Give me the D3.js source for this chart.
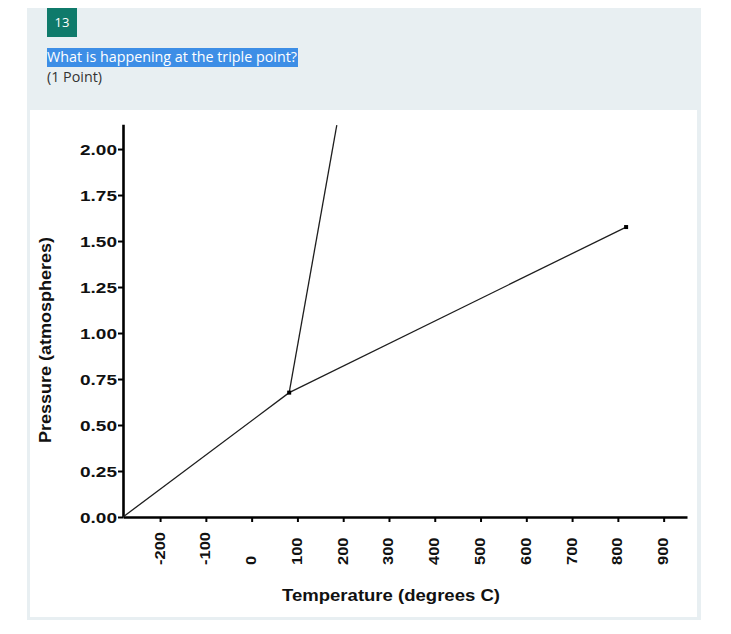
<!DOCTYPE html>
<html>
<head>
<meta charset="utf-8">
<script src="https://cdn.jsdelivr.net/npm/d3@7"></script>
<style>
  html, body { margin: 0; padding: 0; background: #ffffff; }
  svg { display: block; }
</style>
</head>
<body>
<svg id="chart" width="731" height="634"></svg>
<script>
// ---- data ----
const questionNumber = "13";
const questionText = "What is happening at the triple point?";
const pointsText = "(1 Point)";
const xTitle = "Temperature (degrees C)";
const yTitle = "Pressure (atmospheres)";

const tempTicks = [-200, -100, 0, 100, 200, 300, 400, 500, 600, 700, 800, 900];
const pressureTicks = [0, 0.25, 0.5, 0.75, 1.0, 1.25, 1.5, 1.75, 2.0];
const tempDomain = [-281, 951];
const pressureDomain = [0, 2.135];

// phase boundary curves (temperature °C, pressure atm)
const sublimationTemp = [-281, 82];
const sublimationPressure = [0, 0.676];
const fusionTemp = [82, 186];
const fusionPressure = [0.676, 2.13];
const vaporTemp = [82, 818];
const vaporPressure = [0.676, 1.576];
// marked points: triple point, critical point
const markerTemp = [82, 818];
const markerPressure = [0.676, 1.576];

// ---- drawing ----
const svg = d3.select("#chart");

// card background
svg.append("rect").attr("x", 27).attr("y", 8).attr("width", 674).attr("height", 612).attr("fill", "#e8eff2");
svg.append("rect").attr("x", 30).attr("y", 110).attr("width", 667).attr("height", 507).attr("fill", "#ffffff");

// badge
svg.append("rect").attr("x", 47).attr("y", 8).attr("width", 30).attr("height", 29).attr("fill", "#0f7a6b");
svg.append("text").attr("x", 62).attr("y", 27).attr("text-anchor", "middle")
  .attr("font-family", "'Open Sans', 'Noto Sans', sans-serif").attr("font-size", 13)
  .attr("fill", "#ffffff").text(questionNumber);

// question (highlighted)
svg.append("rect").attr("x", 47).attr("y", 48).attr("width", 251).attr("height", 19).attr("fill", "#3d8ee6");
svg.append("text").attr("x", 47).attr("y", 62)
  .attr("font-family", "'Open Sans', 'Noto Sans', sans-serif").attr("font-size", 15)
  .attr("fill", "#ffffff").attr("textLength", 250).attr("lengthAdjust", "spacingAndGlyphs")
  .text(questionText);
svg.append("text").attr("x", 47).attr("y", 82)
  .attr("font-family", "'Open Sans', 'Noto Sans', sans-serif").attr("font-size", 14)
  .attr("fill", "#333333").attr("textLength", 55).attr("lengthAdjust", "spacingAndGlyphs")
  .text(pointsText);

// scales
const x = d3.scaleLinear().domain(tempDomain).range([123, 687]);
const y = d3.scaleLinear().domain(pressureDomain).range([517, 124.2]);

const fontFam = "'Liberation Sans', Arial, sans-serif";

// y axis
const yAxisG = svg.append("g").attr("transform", "translate(123,0)")
  .call(d3.axisLeft(y).tickValues(pressureTicks).tickFormat(d3.format(".2f")).tickSize(5).tickSizeOuter(0).tickPadding(1));
yAxisG.select(".domain").attr("stroke", "#000").attr("stroke-width", 2.6);
yAxisG.selectAll(".tick line").attr("stroke", "#000").attr("stroke-width", 2);
yAxisG.selectAll(".tick text")
  .attr("font-family", fontFam).attr("font-size", 15).attr("font-weight", "bold").attr("fill", "#111")
  .attr("dy", "0.36em")
  .attr("textLength", 37).attr("lengthAdjust", "spacingAndGlyphs");

// x axis
const xAxisG = svg.append("g").attr("transform", "translate(0,517)")
  .call(d3.axisBottom(x).tickValues(tempTicks).tickFormat(d => String(d)).tickSize(5).tickSizeOuter(0));
xAxisG.select(".domain").attr("stroke", "#000").attr("stroke-width", 2.6);
xAxisG.selectAll(".tick line").attr("stroke", "#000").attr("stroke-width", 2);
xAxisG.selectAll(".tick text")
  .attr("font-family", fontFam).attr("font-size", 15).attr("font-weight", "bold").attr("fill", "#111")
  .attr("text-anchor", "start")
  .attr("x", 0).attr("y", 0).attr("dy", "0.33em")
  .attr("transform", "translate(-1,48) rotate(-90)")
  .each(function () {
    const w = this.getComputedTextLength();
    d3.select(this).attr("textLength", w * 1.1).attr("lengthAdjust", "spacingAndGlyphs");
  });

// axis titles
svg.append("text").attr("x", (282 + 500) / 2).attr("y", 601).attr("text-anchor", "middle")
  .attr("font-family", fontFam).attr("font-size", 16).attr("font-weight", "bold").attr("fill", "#111")
  .attr("textLength", 218).attr("lengthAdjust", "spacingAndGlyphs")
  .text(xTitle);
svg.append("text").attr("transform", "translate(51,340) rotate(-90)").attr("text-anchor", "middle")
  .attr("font-family", fontFam).attr("font-size", 16).attr("font-weight", "bold").attr("fill", "#111")
  .attr("textLength", 206).attr("lengthAdjust", "spacingAndGlyphs")
  .text(yTitle);

// curves
const line = d3.line().x(d => x(d[0])).y(d => y(d[1]));
const curves = [
  d3.zip(sublimationTemp, sublimationPressure),
  d3.zip(fusionTemp, fusionPressure),
  d3.zip(vaporTemp, vaporPressure)
];
svg.append("g").selectAll("path").data(curves).join("path")
  .attr("d", line).attr("fill", "none").attr("stroke", "#1e1e1e").attr("stroke-width", 1.3);

// markers
svg.append("g").selectAll("rect").data(d3.zip(markerTemp, markerPressure)).join("rect")
  .attr("x", d => x(d[0]) - 2).attr("y", d => y(d[1]) - 2)
  .attr("width", 4).attr("height", 4).attr("fill", "#000");
</script>
</body>
</html>
